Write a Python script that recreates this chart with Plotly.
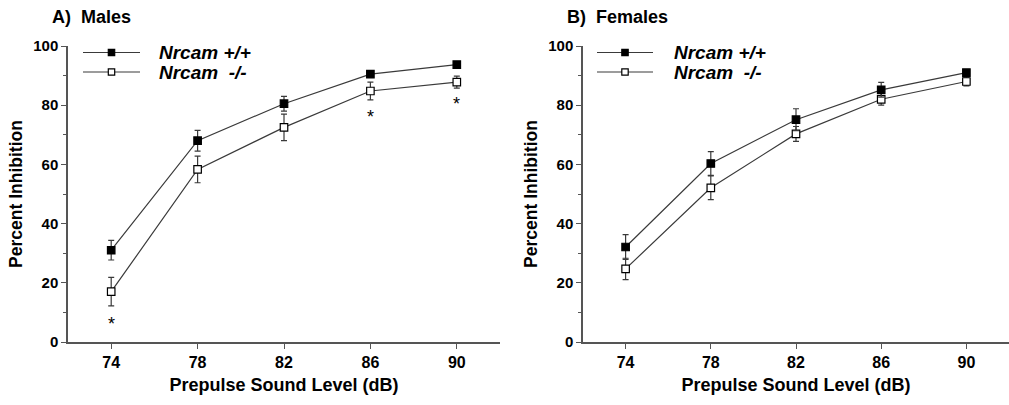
import plotly.graph_objects as go

levels = [74, 78, 82, 86, 90]
tick_labels = ["74", "78", "82", "86", "90"]

male_wt = [31.0, 68.0, 80.5, 90.5, 93.7]
male_wt_err = [3.3, 3.5, 2.5, 1.0, 0.6]
male_ko = [17.0, 58.3, 72.5, 84.8, 87.8]
male_ko_err = [4.8, 4.5, 4.5, 3.0, 2.0]

female_wt = [32.1, 60.3, 75.1, 85.2, 91.0]
female_wt_err = [4.2, 4.0, 3.7, 2.5, 1.0]
female_ko = [24.7, 52.1, 70.3, 82.0, 88.0]
female_ko_err = [3.6, 4.0, 2.5, 2.0, 1.5]

star_levels = [74, 86, 90]
star_values = [6.0, 76.0, 80.3]

series_names = ["Nrcam +/+", "Nrcam  -/-"]
panel_titles = ["A)  Males", "B)  Females"]

W, H = 1009, 405
TOP, BOT = 46, 342
dom1 = [68 / W, 500 / W]
dom2 = [583 / W, 1.0]
LINE = "#3a3a3a"
FONT = "Liberation Sans, Arial, sans-serif"


def py(ypx):
    return 1 - (ypx - TOP) / (BOT - TOP)


fig = go.Figure()


def add_series(x, y, err, filled, xa, ya):
    fig.add_trace(go.Scatter(
        x=x, y=y, mode="lines+markers",
        line=dict(color=LINE, width=1.2),
        marker=dict(symbol="square", size=7.5,
                    color="black" if filled else "white",
                    line=dict(color="black", width=1.2)),
        error_y=dict(type="data", array=err, visible=True,
                     color=LINE, thickness=1.2, width=3),
        xaxis=xa, yaxis=ya, showlegend=False, hoverinfo="skip",
    ))


add_series(levels, male_ko, male_ko_err, False, "x", "y")
add_series(levels, male_wt, male_wt_err, True, "x", "y")
add_series(levels, female_ko, female_ko_err, False, "x2", "y2")
add_series(levels, female_wt, female_wt_err, True, "x2", "y2")

axis_common = dict(
    range=[72, 92], tickvals=levels, ticktext=tick_labels,
    showline=True, linecolor="#555", linewidth=1.5,
    ticks="outside", ticklen=5, tickwidth=1, tickcolor="#555",
    showgrid=False, zeroline=False,
    tickfont=dict(family=FONT, size=16, color="black", weight="bold"),
    title=dict(text="<b>Prepulse Sound Level (dB)</b>",
               font=dict(family=FONT, size=18, color="black"), standoff=8),
)
yaxis_common = dict(
    range=[0, 100], tickvals=[0, 20, 40, 60, 80, 100],
    showline=True, linecolor="#555", linewidth=1.5,
    ticks="outside", ticklen=5, tickwidth=1, tickcolor="#555",
    minor=dict(tickvals=[10, 30, 50, 70, 90], ticks="outside", ticklen=3,
               tickcolor="#555", tickwidth=1),
    showgrid=False, zeroline=False,
    tickfont=dict(family=FONT, size=15, color="black", weight="bold"),
    title=dict(text="<b>Percent Inhibition</b>",
               font=dict(family=FONT, size=17.5, color="black"), standoff=6),
)

fig.update_layout(
    width=W, height=H,
    margin=dict(l=0, r=0, t=TOP, b=H - BOT),
    paper_bgcolor="white", plot_bgcolor="white",
    xaxis=dict(domain=dom1, anchor="y", **axis_common),
    yaxis=dict(domain=[0, 1], anchor="x", **yaxis_common),
    xaxis2=dict(domain=dom2, anchor="y2", **axis_common),
    yaxis2=dict(domain=[0, 1], anchor="x2", **yaxis_common),
)

annotations = []
# panel titles
for txt, xpx in zip(panel_titles, [50, 565]):
    annotations.append(dict(
        text="<b>" + txt.replace("  ", "&nbsp; ") + "</b>",
        xref="paper", yref="paper",
        x=xpx / W, y=py(17), yanchor="middle", xanchor="left",
        showarrow=False, font=dict(family=FONT, size=18, color="black"),
    ))
# significance stars
for xv, yv in zip(star_levels, star_values):
    annotations.append(dict(
        text="*", x=xv, y=yv, xref="x", yref="y", showarrow=False,
        font=dict(family=FONT, size=18, color="black"),
    ))

# manual legends
shapes = []
for (lx0, lx1, tx) in [(83, 140, 157), (597, 653, 672)]:
    for i, (name, filled) in enumerate(zip(series_names, [True, False])):
        ypx = 52.5 + i * 19.5
        yp = py(ypx)
        hp = 3.2 / (BOT - TOP)
        shapes.append(dict(type="line", xref="paper", yref="paper",
                           x0=lx0 / W, x1=lx1 / W, y0=yp, y1=yp,
                           line=dict(color=LINE, width=1.2)))
        cx = (lx0 + lx1) / 2
        shapes.append(dict(type="rect", xref="paper", yref="paper",
                           x0=(cx - 3.2) / W, x1=(cx + 3.2) / W,
                           y0=yp - hp, y1=yp + hp,
                           fillcolor="black" if filled else "white",
                           line=dict(color="black", width=1.2)))
        annotations.append(dict(
            text="<b><i>" + name.replace("  ", "&nbsp; ") + "</i></b>",
            xref="paper", yref="paper", x=tx / W, y=yp,
            xanchor="left", yanchor="middle", showarrow=False,
            font=dict(family=FONT, size=19, color="black"),
        ))

fig.update_layout(annotations=annotations, shapes=shapes)
fig.write_html("out.html")
